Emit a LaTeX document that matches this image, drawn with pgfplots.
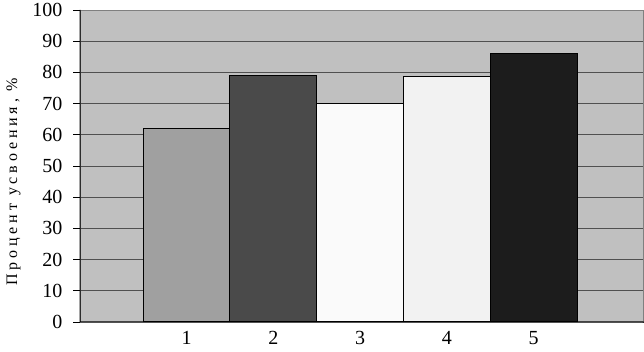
\documentclass[border=0pt]{standalone}
\usepackage{fontspec}
\setmainfont{Liberation Serif}
\usepackage{pgfplots}
\pgfplotsset{compat=1.18}
\definecolor{plotbg}{HTML}{C0C0C0}
\definecolor{gridc}{HTML}{505050}
\definecolor{cA}{HTML}{A0A0A0}
\definecolor{cB}{HTML}{4A4A4A}
\definecolor{cC}{HTML}{FAFAFA}
\definecolor{cD}{HTML}{F2F2F2}
\definecolor{cE}{HTML}{1C1C1C}
\begin{document}
\begin{tikzpicture}[x=1pt,y=1pt]
\useasboundingbox (0,0) rectangle (644,352);
\begin{axis}[
  at={(80pt,30pt)}, anchor=south west,
  width=563pt, height=312pt, scale only axis,
  xmin=-0.228, xmax=6.26,
  ymin=0, ymax=100,
  ytick={0,10,...,100},
  xtick={1,2,3,4,5},
  xticklabels={1,2,3,4,5},
  x tick style={draw=none},
  y tick style={black, line width=0.8pt},
  tick align=outside,
  major tick length=7pt,
  ymajorgrids,
  major grid style={draw=gridc, line width=0.8pt},
  axis line style={draw=gray, line width=0.8pt},
  axis background/.style={fill=plotbg},
  /pgf/number format/assume math mode=true,
  tick label style={font=\fontsize{20}{20}\selectfont},
  yticklabel style={xshift=-7pt},
  xticklabel style={yshift=-1pt, inner sep=1pt},
  ylabel={\fontsize{16}{16}\selectfont\addfontfeatures{LetterSpace=24}Процент усвоения, \%},
  ylabel style={at={(axis description cs:-0.118,0.45)}, anchor=center},
  clip=false,
]
\addplot[ybar, bar width=1, bar shift=0pt, fill=cA, draw=black, line width=1pt] coordinates {(1,62)};
\addplot[ybar, bar width=1, bar shift=0pt, fill=cB, draw=black, line width=1pt] coordinates {(2,79)};
\addplot[ybar, bar width=1, bar shift=0pt, fill=cC, draw=black, line width=1pt] coordinates {(3,70)};
\addplot[ybar, bar width=1, bar shift=0pt, fill=cD, draw=black, line width=1pt] coordinates {(4,78.7)};
\addplot[ybar, bar width=1, bar shift=0pt, fill=cE, draw=black, line width=1pt] coordinates {(5,86)};
\draw[black, line width=1pt] (rel axis cs:0,1) -- (rel axis cs:0,0) -- (rel axis cs:1,0) -- ++(0,-5pt);
\end{axis}
\end{tikzpicture}
\end{document}
